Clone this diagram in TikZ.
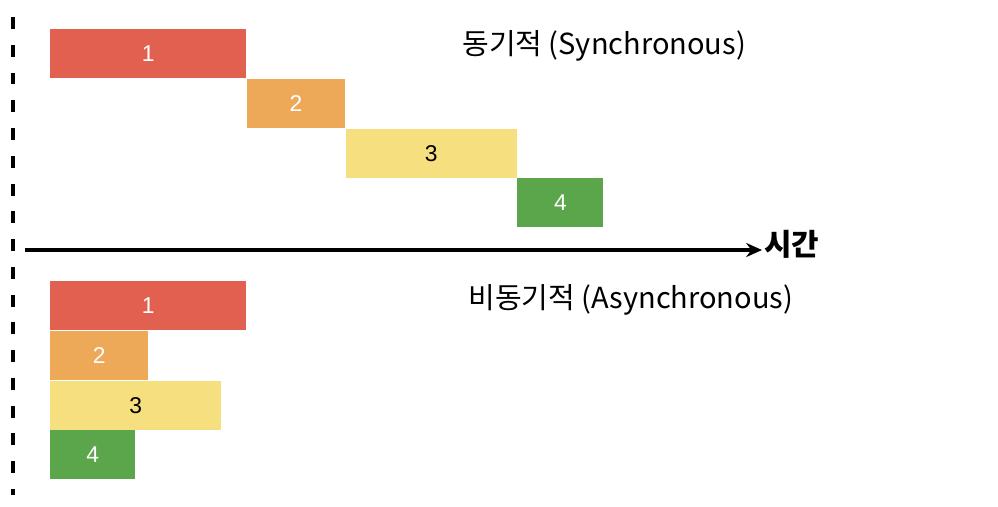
\documentclass[tikz,border=0pt]{standalone}
\usepackage{fontspec}
\setmainfont{Liberation Sans}
\newfontfamily\kr{Noto Sans CJK KR}
\usetikzlibrary{arrows.meta}

\definecolor{job1}{RGB}{225,96,80}
\definecolor{job2}{RGB}{237,168,88}
\definecolor{job3}{RGB}{246,223,126}
\definecolor{job4}{RGB}{91,166,74}

\tikzset{
  bar/.style={anchor=north west, inner sep=0pt, minimum height=0.98cm, font=\fontsize{13}{15}\selectfont},
  title/.style={anchor=west, inner sep=0pt, font=\kr\fontsize{16.5}{19}\selectfont}
}

\begin{document}
\begin{tikzpicture}[x=0.02cm,y=-0.02cm]
  \useasboundingbox (0,0) rectangle (998,507);
  % time line
  \draw [line width=2.2pt, dash pattern=on 6.8pt off 9pt](13,17) -- (13,495);
  \coordinate (t0) at (25,250);
  \node[anchor=west, font=\kr\bfseries\fontsize{17}{20}\selectfont, inner sep=1pt] at(762,244)(time){시간};
  \draw [line width=2.2pt, -{Stealth[length=9pt,width=8pt]}](t0) -- (time.west |- t0);
  % titles
  \node[title] at(462,46)(sync){동기적 (Synchronous)};
  \node[title] at(468,300)(async){비동기적 (Asynchronous)};
  % synchronous
  \node[bar, fill=job1, minimum width=3.92cm, text=white] at(50,29)(s1){1};
  \node[bar, fill=job2, minimum width=1.96cm, text=white] at(s1.south east)(s2){2};
  \node[bar, fill=job3, minimum width=3.42cm] at(s2.south east)(s3){3};
  \node[bar, fill=job4, minimum width=1.72cm, text=white] at(s3.south east)(s4){4};
  % asynchronous
  \node[bar, fill=job1, minimum width=3.92cm, text=white] at(50,281)(a1){1};
  \node[bar, fill=job2, minimum width=1.96cm, text=white] at(a1.south west)(a2){2};
  \node[bar, fill=job3, minimum width=3.42cm] at(a2.south west)(a3){3};
  \node[bar, fill=job4, minimum width=1.70cm, text=white] at(a3.south west)(a4){4};
\end{tikzpicture}
\end{document}
